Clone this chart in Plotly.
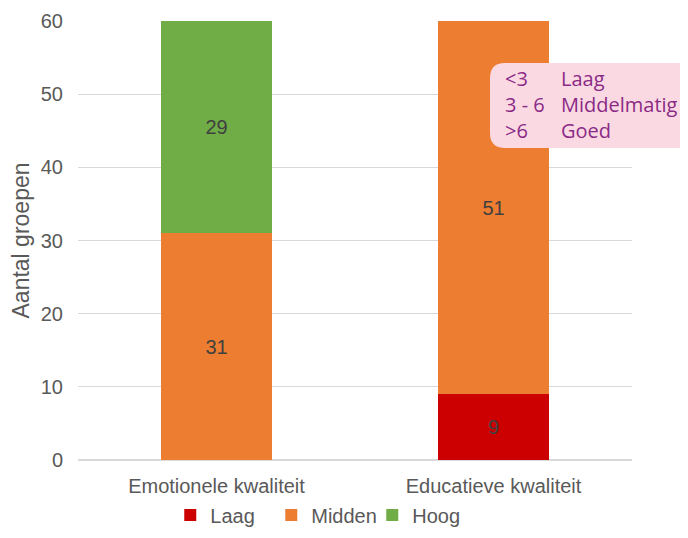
import plotly.graph_objects as go

categories = ["Emotionele kwaliteit", "Educatieve kwaliteit"]
laag = [0, 9]
midden = [31, 51]
hoog = [29, 0]
y_ticks = [0, 10, 20, 30, 40, 50, 60]
box_ranges = ["<3", "3 - 6", ">6"]
box_labels = ["Laag", "Middelmatig", "Goed"]

# figure is placed 8px inside the page (default body margin)
W, H = 672, 522
L, R, T, B = 70, 48, 13, 70
PW, PH = W - L - R, H - T - B


def px_x(page_x):
    return (page_x - 8 - L) / PW


def px_y(page_y):
    return (H - B - (page_y - 8)) / PH


def lbl(vals):
    return [str(v) if v else "" for v in vals]


fig = go.Figure()
for name, vals, col in [("Laag", laag, "#CC0000"), ("Midden", midden, "#ED7D31"), ("Hoog", hoog, "#70AD47")]:
    fig.add_trace(go.Bar(
        x=categories, y=vals, name=name, marker_color=col, marker_line_width=0,
        text=lbl(vals), textposition="inside", insidetextanchor="middle",
        textfont=dict(color="#404040", size=20, family="Liberation Sans"),
        textangle=0,
    ))

fig.update_layout(
    barmode="stack", bargap=0.6,
    width=W, height=H,
    margin=dict(l=L, r=R, t=T, b=B, autoexpand=False),
    plot_bgcolor="white", paper_bgcolor="white",
    font=dict(family="Liberation Sans", color="#595959", size=20),
    showlegend=True,
    legend=dict(orientation="h", x=0.44, xanchor="center", yref="container",
                y=(H - (515 - 8)) / H, yanchor="middle",
                entrywidth=56, entrywidthmode="pixels",
                font=dict(size=20, color="#595959"), traceorder="normal"),
)
fig.update_yaxes(range=[0, 60], tickvals=y_ticks, showgrid=True, gridcolor="#D9D9D9",
                 gridwidth=1, zeroline=True, zerolinecolor="#D9D9D9", zerolinewidth=1.5,
                 showline=False, ticks="", ticklabelstandoff=14,
                 title=dict(text="Aantal groepen", font=dict(size=23, color="#595959"), standoff=6),
                 tickfont=dict(size=20, color="#595959"))
fig.update_xaxes(showline=False, ticks="", ticklabelstandoff=12,
                 tickfont=dict(size=20, color="#595959"))

# rounded pink box (paper coords)
x0, x1 = px_x(490), px_x(705)
y0, y1 = px_y(148), px_y(63)
rx, ry = 15 / PW, 15 / PH
path = (f"M {x0+rx},{y0} L {x1-rx},{y0} Q {x1},{y0} {x1},{y0+ry} L {x1},{y1-ry} Q {x1},{y1} {x1-rx},{y1} "
        f"L {x0+rx},{y1} Q {x0},{y1} {x0},{y1-ry} L {x0},{y0+ry} Q {x0},{y0} {x0+rx},{y0} Z")
fig.add_shape(type="path", path=path, xref="paper", yref="paper",
              fillcolor="#FAD9E2", line=dict(width=0), layer="above")
fig.add_annotation(x=px_x(503), y=px_y(104), xref="paper", yref="paper",
                   text="<br>".join(r.replace("<", "&lt;").replace(">", "&gt;") for r in box_ranges),
                   showarrow=False, xanchor="left", yanchor="middle", align="left",
                   font=dict(size=20, color="#8B2A86", family="Open Sans"))
fig.add_annotation(x=px_x(559), y=px_y(104), xref="paper", yref="paper",
                   text="<br>".join(box_labels),
                   showarrow=False, xanchor="left", yanchor="middle", align="left",
                   font=dict(size=20, color="#8B2A86", family="Open Sans"))

fig.write_html("out.html")
